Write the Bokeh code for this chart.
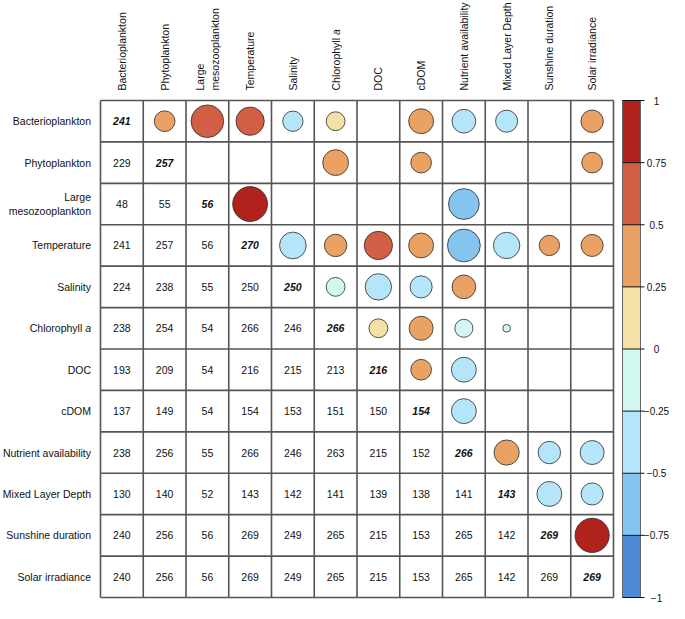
import math
from bokeh.plotting import figure
from bokeh.models import Range1d, ColumnDataSource
from bokeh.core.properties import value
from bokeh.embed import file_html
from bokeh.resources import INLINE

# ---------------- data ----------------
labels = ["Bacterioplankton", "Phytoplankton", "Large\nmesozooplankton", "Temperature",
          "Salinity", "Chlorophyll a", "DOC", "cDOM", "Nutrient availability",
          "Mixed Layer Depth", "Sunshine duration", "Solar irradiance"]

# upper triangle correlation coefficients (row, column, r)
corr_row = [0, 0, 0, 0, 0, 0, 0, 0, 0,
            1, 1, 1,
            2, 2,
            3, 3, 3, 3, 3, 3, 3, 3,
            4, 4, 4, 4,
            5, 5, 5, 5,
            6, 6,
            7,
            8, 8, 8,
            9, 9,
            10]
corr_col = [1, 2, 3, 4, 5, 7, 8, 9, 11,
            5, 7, 11,
            3, 8,
            4, 5, 6, 7, 8, 9, 10, 11,
            5, 6, 7, 8,
            6, 7, 8, 9,
            7, 8,
            8,
            9, 10, 11,
            10, 11,
            11]
corr_val = [0.29, 0.72, 0.54, -0.28, 0.24, 0.42, -0.38, -0.33, 0.34,
            0.45, 0.29, 0.29,
            0.82, -0.64,
            -0.48, 0.34, 0.54, 0.42, -0.73, -0.47, 0.28, 0.33,
            -0.24, -0.47, -0.33, 0.38,
            0.24, 0.39, -0.22, -0.04,
            0.29, -0.42,
            -0.42,
            0.43, -0.34, -0.39,
            -0.42, -0.33,
            0.79]

# sample sizes: diagonal and lower triangle
diag_n = [241, 257, 56, 270, 250, 266, 216, 154, 266, 143, 269, 269]
lower_n = [
    [],
    [229],
    [48, 55],
    [241, 257, 56],
    [224, 238, 55, 250],
    [238, 254, 54, 266, 246],
    [193, 209, 54, 216, 215, 213],
    [137, 149, 54, 154, 153, 151, 150],
    [238, 256, 55, 266, 246, 263, 215, 152],
    [130, 140, 52, 143, 142, 141, 139, 138, 141],
    [240, 256, 56, 269, 249, 265, 215, 153, 265, 142],
    [240, 256, 56, 269, 249, 265, 215, 153, 265, 142, 269],
]

bin_edges = [-1, -0.75, -0.5, -0.25, 0, 0.25, 0.5, 0.75, 1]
bin_colors = ["#5089D5", "#84C4EE", "#B4E5F8", "#D3F8F2",
              "#F5E0A6", "#E9A164", "#D15E45", "#B2221C"]
cbar_labels = ["\u22121", "\u22120.75", "\u22120.5", "\u22120.25", "0", "0.25", "0.5", "0.75", "1"]

# ---------------- layout ----------------
W, H = 669, 603
n = len(labels)
grid_left_px, grid_right_px = 100, 613
grid_top_px, grid_bot_px = 100, 597
cell_w = (grid_right_px - grid_left_px) / n
cell_h = (grid_bot_px - grid_top_px) / n

x0 = -grid_left_px / cell_w
x1 = (W - grid_left_px) / cell_w
y_top = -grid_top_px / cell_h
y_bot = (H - grid_top_px) / cell_h

FONT = "Liberation Sans"

p = figure(width=W, height=H, x_range=Range1d(x0, x1), y_range=Range1d(y_bot, y_top),
           output_backend="svg", toolbar_location=None, min_border=0,
           x_axis_location=None, y_axis_location=None)
p.xgrid.visible = False
p.ygrid.visible = False
p.outline_line_color = None
p.background_fill_color = "white"
p.border_fill_color = "white"

# circles
def bin_color(r):
    k = int(math.floor((r + 1) / 0.25))
    return bin_colors[max(0, min(7, k))]

csrc = ColumnDataSource(dict(
    x=[c + 0.5 for c in corr_col],
    y=[r + 0.5 for r in corr_row],
    rad=[0.45 * math.sqrt(abs(v)) for v in corr_val],
    col=[bin_color(v) for v in corr_val],
))
p.circle(x="x", y="y", radius="rad", radius_dimension="x", fill_color="col",
         line_color="#2b2b2b", line_width=0.8, source=csrc)

# grid lines
p.multi_line(xs=[[k, k] for k in range(n + 1)], ys=[[0, n]] * (n + 1),
             line_color="#555555", line_width=1.6)
p.multi_line(xs=[[0, n]] * (n + 1), ys=[[k, k] for k in range(n + 1)],
             line_color="#555555", line_width=1.6)

# lower-triangle numbers
lx, ly, lt = [], [], []
for i, row in enumerate(lower_n):
    for j, v in enumerate(row):
        lx.append(j + 0.5); ly.append(i + 0.5); lt.append(str(v))
p.text(x=lx, y=ly, text=lt, text_align="center", text_baseline="middle",
       text_font=value(FONT), text_font_size="10.5px", text_color="#111111")
# diagonal numbers
p.text(x=[k + 0.5 for k in range(n)], y=[k + 0.5 for k in range(n)],
       text=[str(v) for v in diag_n], text_align="center", text_baseline="middle",
       text_font=value(FONT), text_font_size="10.5px", text_font_style="bold italic",
       text_color="#111111")

# row labels
row_anchor = -9.5 / cell_w
row_fs = 10.5
a_shift = (0.278 + 0.556) * row_fs / cell_w
rlx, rly, rlt = [], [], []
for i, lab in enumerate(labels):
    if lab == "Chlorophyll a":
        continue
    rlx.append(row_anchor); rly.append(i + 0.5); rlt.append(lab)
p.text(x=rlx, y=rly, text=rlt, text_align="right", text_baseline="middle",
       text_font=value(FONT), text_font_size=f"{row_fs}px", text_color="#111111")
chl = labels.index("Chlorophyll a")
p.text(x=[row_anchor - a_shift], y=[chl + 0.5], text=["Chlorophyll"], text_align="right",
       text_baseline="middle", text_font=value(FONT), text_font_size=f"{row_fs}px",
       text_color="#111111")
p.text(x=[row_anchor], y=[chl + 0.5], text=["a"], text_align="right",
       text_baseline="middle", text_font=value(FONT), text_font_size=f"{row_fs}px",
       text_font_style="italic", text_color="#111111")

# column headers (rotated)
hdr_fs = 10.5
hdr_y = -10.0 / cell_h
hx, hy, ht = [], [], []
for j, lab in enumerate(labels):
    if lab == "Chlorophyll a":
        continue
    hx.append(j + 0.5); hy.append(hdr_y); ht.append(lab)
p.text(x=hx, y=hy, text=ht, angle=math.pi / 2, text_align="left", text_baseline="middle",
       text_font=value(FONT), text_font_size=f"{hdr_fs}px", text_color="#111111")
chl_w = 5.279 * hdr_fs / cell_h
p.text(x=[chl + 0.5], y=[hdr_y], text=["Chlorophyll"], angle=math.pi / 2, text_align="left",
       text_baseline="middle", text_font=value(FONT), text_font_size=f"{hdr_fs}px",
       text_color="#111111")
p.text(x=[chl + 0.5], y=[hdr_y - chl_w], text=["a"], angle=math.pi / 2, text_align="left",
       text_baseline="middle", text_font=value(FONT), text_font_size=f"{hdr_fs}px",
       text_font_style="italic", text_color="#111111")

# colour bar
cb_l = (622 - grid_left_px) / cell_w
cb_r = (640 - grid_left_px) / cell_w
tick_r = (644 - grid_left_px) / cell_w
lab_x = (656 - grid_left_px) / cell_w
def vy(v):
    return (1 - v) / 2 * n
p.quad(left=cb_l, right=cb_r,
       top=[vy(bin_edges[k + 1]) for k in range(8)],
       bottom=[vy(bin_edges[k]) for k in range(8)],
       fill_color=bin_colors, line_color=None)
p.quad(left=[cb_l], right=[cb_r], top=[vy(1)], bottom=[vy(-1)],
       fill_color=None, line_color="#666666", line_width=1)
p.multi_line(xs=[[cb_l, tick_r]] * 9, ys=[[vy(v), vy(v)] for v in bin_edges],
             line_color="#111111", line_width=1)
p.text(x=[lab_x] * 9, y=[vy(v) for v in bin_edges], text=cbar_labels,
       text_align="center", text_baseline="middle", text_font=value(FONT),
       text_font_size="10px", text_color="#111111")

open("out.html", "w").write(file_html(p, INLINE))
